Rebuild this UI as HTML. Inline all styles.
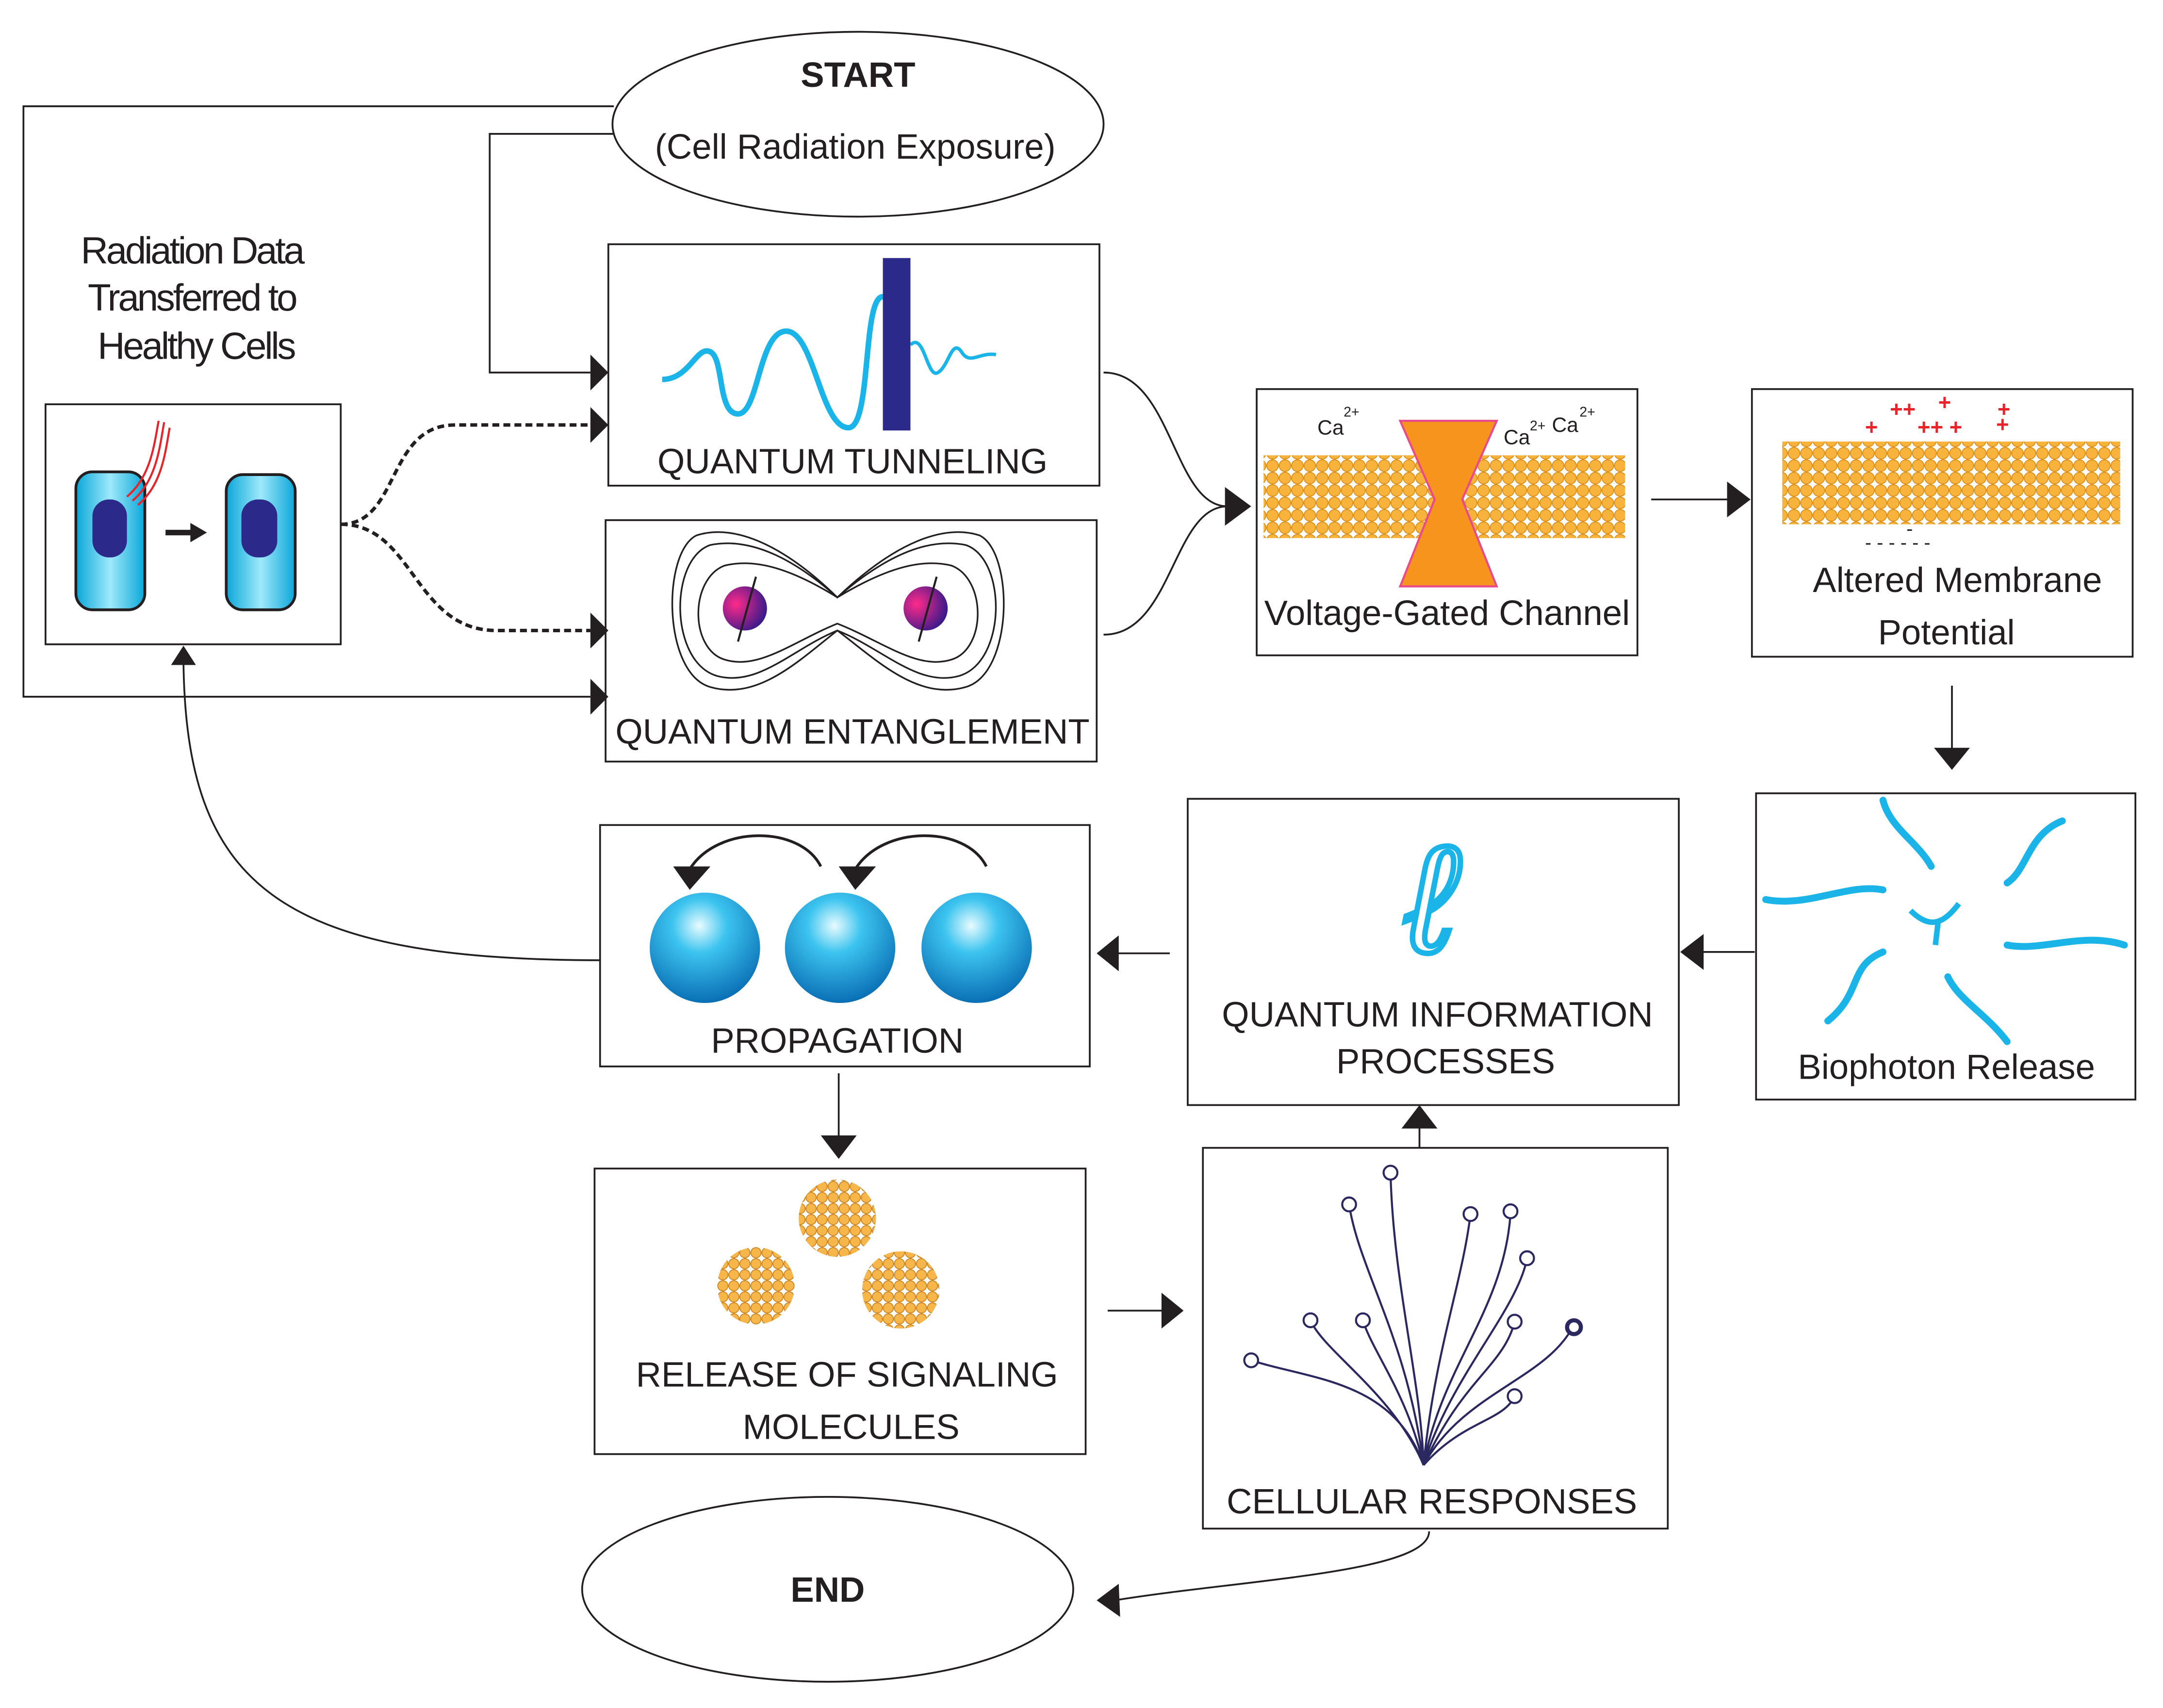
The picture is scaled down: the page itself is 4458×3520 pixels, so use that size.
<!DOCTYPE html>
<html><head><meta charset="utf-8">
<style>
html,body{margin:0;padding:0;background:#fff;}
svg{display:block;}
text{font-family:"Liberation Sans",sans-serif;}
</style></head>
<body>
<svg width="4458" height="3520" viewBox="0 0 1568 1238" xmlns="http://www.w3.org/2000/svg">
<defs>
<radialGradient id="ball" cx="0.45" cy="0.3" r="0.7">
<stop offset="0" stop-color="#e8fbff"/><stop offset="0.35" stop-color="#3cc4ef"/><stop offset="1" stop-color="#0a6fb5"/>
</radialGradient>
<linearGradient id="cellg" x1="0" x2="1"><stop offset="0" stop-color="#0aa6d8"/><stop offset="0.5" stop-color="#9ee9fb"/><stop offset="1" stop-color="#0aa6d8"/></linearGradient>
<radialGradient id="spin" cx="0.3" cy="0.4" r="0.7"><stop offset="0" stop-color="#ff2a8a"/><stop offset="1" stop-color="#3a1a8a"/></radialGradient>
<pattern id="lip" width="9" height="9" patternUnits="userSpaceOnUse"><circle cx="4.5" cy="4.5" r="4.2" fill="#f7b33c" stroke="#d98a10" stroke-width="0.6"/></pattern>
<pattern id="mol" width="8" height="8" patternUnits="userSpaceOnUse"><circle cx="4" cy="4" r="3.7" fill="#f6b64a" stroke="#c9801a" stroke-width="0.6"/></pattern>
</defs>
<g fill="none" stroke="#231f20" stroke-width="1.3">
<ellipse cx="622" cy="90" rx="178" ry="67"/>
<ellipse cx="600" cy="1152" rx="178" ry="67"/>
<rect x="441" y="177" width="356" height="175"/>
<rect x="439" y="377" width="356" height="175"/>
<rect x="33" y="293" width="214" height="174"/>
<rect x="911" y="282" width="276" height="193"/>
<rect x="1270" y="282" width="276" height="194"/>
<rect x="1273" y="575" width="275" height="222"/>
<rect x="861" y="579" width="356" height="222"/>
<rect x="435" y="598" width="355" height="175"/>
<rect x="431" y="847" width="356" height="207"/>
<rect x="872" y="832" width="337" height="276"/>
<polyline points="445,77 17,77 17,505 428,505"/>
<polyline points="445,97 355,97 355,270 428,270"/>
<path d="M247,380 C290,380 280,308 330,308 L428,308" stroke-dasharray="5,3" stroke-width="2.5"/>
<path d="M247,380 C300,380 300,457 360,457 L428,457" stroke-dasharray="5,3" stroke-width="2.5"/>
<path d="M800,270 C850,270 850,367 890,367"/>
<path d="M800,460 C850,460 850,367 890,367"/>
<line x1="1197" y1="362" x2="1255" y2="362"/>
<line x1="1415" y1="497" x2="1415" y2="545"/>
<line x1="1272" y1="690" x2="1232" y2="690"/>
<line x1="848" y1="691" x2="808" y2="691"/>
<path d="M435,696 C200,696 135,640 133,480"/>
<line x1="608" y1="778" x2="608" y2="826"/>
<line x1="803" y1="950" x2="845" y2="950"/>
<line x1="1029" y1="832" x2="1029" y2="815"/>
<path d="M1036,1110 C1036,1140 900,1145 808,1160"/>
</g>
<g fill="#231f20">
<polygon points="428,257 441,270 428,283"/>
<polygon points="428,295 441,308 428,321"/>
<polygon points="428,444 441,457 428,470"/>
<polygon points="428,492 441,505 428,518"/>
<polygon points="888,353 907,367 888,381"/>
<polygon points="1252,349 1269,362 1252,375"/>
<polygon points="1402,542 1415,558 1428,542"/>
<polygon points="1235,677 1218,690 1235,703"/>
<polygon points="811,678 795,691 811,704"/>
<polygon points="124,482 133,468 142,482"/>
<polygon points="595,823 608,840 621,823"/>
<polygon points="842,937 858,950 842,963"/>
<polygon points="1016,818 1029,801 1042,818"/>
<polygon points="811,1148 795,1160 812,1172"/>
</g>
<g fill="#231f20" font-size="25.5" text-anchor="middle">
<text x="622" y="63" font-weight="bold">START</text>
<text x="620" y="115">(Cell Radiation Exposure)</text>
<text x="600" y="1161" font-weight="bold">END</text>
<text x="139" y="191" letter-spacing="-1.5" font-size="27.5">Radiation Data</text>
<text x="139" y="225" letter-spacing="-1.5" font-size="27.5">Transferred to</text>
<text x="142" y="260" letter-spacing="-1.5" font-size="27.5">Healthy Cells</text>
<text x="618" y="343">QUANTUM TUNNELING</text>
<text x="618" y="539">QUANTUM ENTANGLEMENT</text>
<text x="1049" y="453">Voltage-Gated Channel</text>
<text x="1419" y="429">Altered Membrane</text>
<text x="1411" y="467">Potential</text>
<text x="1411" y="782">Biophoton Release</text>
<text x="1042" y="744">QUANTUM INFORMATION</text>
<text x="1048" y="778">PROCESSES</text>
<text x="607" y="763">PROPAGATION</text>
<text x="614" y="1005">RELEASE OF SIGNALING</text>
<text x="617" y="1043">MOLECULES</text>
<text x="1038" y="1097">CELLULAR RESPONSES</text>
</g>
<path d="M480,275 C500,275 505,250 515,255 C525,260 520,300 535,300 C550,300 550,240 570,240 C590,240 595,310 615,310 C632,310 625,215 640,215" fill="none" stroke="#1ab4e8" stroke-width="4"/>
<path d="M660,250 C670,240 672,275 680,270 C688,265 690,245 697,255 C703,265 710,255 722,257" fill="none" stroke="#1ab4e8" stroke-width="2.5"/>
<rect x="640" y="187" width="20" height="125" fill="#2b2a8a"/>
<g fill="none" stroke="#231f20" stroke-width="1.2">
<path d="M607,433 C570,400 540,390 515,395 C485,405 485,480 520,490 C550,498 575,470 607,457 C640,470 665,498 695,490 C730,480 730,405 700,395 C675,390 645,400 607,433Z"/>
<path d="M607,433 C565,392 530,380 505,388 C480,400 480,488 515,498 C550,508 580,478 607,457 C635,478 665,508 700,498 C735,488 735,400 710,388 C685,380 650,392 607,433Z"/>
<path d="M607,433 C570,410 545,405 525,410 C500,420 500,470 525,478 C550,486 575,465 607,452 C640,465 665,486 690,478 C715,470 715,420 690,410 C670,405 645,410 607,433Z"/>
</g>
<circle cx="540" cy="441" r="16" fill="url(#spin)"/>
<circle cx="671" cy="441" r="16" fill="url(#spin)"/>
<line x1="535" y1="465" x2="548" y2="418" stroke="#231f20" stroke-width="1.5"/>
<line x1="666" y1="465" x2="679" y2="418" stroke="#231f20" stroke-width="1.5"/>
<rect x="55" y="342" width="50" height="100" rx="12" fill="url(#cellg)" stroke="#231f20" stroke-width="2"/>
<rect x="67" y="362" width="25" height="42" rx="12" fill="#2b2a8a"/>
<rect x="164" y="344" width="50" height="98" rx="12" fill="url(#cellg)" stroke="#231f20" stroke-width="2"/>
<rect x="175" y="362" width="26" height="42" rx="12" fill="#2b2a8a"/>
<path d="M120,386 L140,386" stroke="#231f20" stroke-width="4"/>
<polygon points="138,379 150,386 138,393" fill="#231f20"/>
<g stroke="#e8242a" stroke-width="1.5" fill="none">
<path d="M92,360 C110,345 112,320 115,305"/><path d="M96,363 C114,348 116,322 119,306"/><path d="M100,366 C118,351 120,326 123,310"/>
</g>
<rect x="916" y="330" width="262" height="60" fill="url(#lip)"/>
<path d="M1015,305 L1085,305 L1060,362 L1085,425 L1015,425 L1040,362Z" fill="#f7941d" stroke="#e84a8a" stroke-width="1.5"/>
<g font-size="15" fill="#231f20"><text x="955" y="315">Ca</text><text x="974" y="302" font-size="10">2+</text>
<text x="1090" y="322">Ca</text><text x="1109" y="312" font-size="10">2+</text><text x="1125" y="313">Ca</text><text x="1145" y="302" font-size="10">2+</text></g>
<rect x="1292" y="320" width="245" height="60" fill="url(#lip)"/>
<g fill="#e8242a" font-size="16" font-weight="bold"><text x="1352" y="315">+</text><text x="1370" y="302">++</text><text x="1405" y="297">+</text><text x="1390" y="315">++ +</text><text x="1448" y="302">+</text><text x="1447" y="313">+</text></g>
<g fill="#231f20" font-size="14"><text x="1352" y="398">- - - - - -</text><text x="1382" y="388">-</text></g>
<g fill="none" stroke="#1ab4e8" stroke-width="5" stroke-linecap="round">
<path d="M1400,628 C1390,610 1370,600 1365,580"/>
<path d="M1455,640 C1470,630 1470,605 1495,595"/>
<path d="M1365,645 C1340,640 1310,658 1280,652"/>
<path d="M1455,685 C1480,690 1510,675 1540,685"/>
<path d="M1365,690 C1340,700 1350,720 1325,740"/>
<path d="M1412,708 C1420,725 1440,735 1455,755"/>
</g>
<path d="M1385,660 C1400,675 1410,668 1420,655 M1405,668 L1403,685" stroke="#1ab4e8" stroke-width="4" fill="none"/>
<text x="1037" y="690" font-size="110" fill="none" stroke="#1ab4e8" stroke-width="4" text-anchor="middle" font-style="italic" font-family="Liberation Serif,serif">ℓ</text>
<circle cx="511" cy="687" r="40" fill="url(#ball)"/>
<circle cx="609" cy="687" r="40" fill="url(#ball)"/>
<circle cx="708" cy="687" r="40" fill="url(#ball)"/>
<path d="M595,628 C580,598 520,598 500,630" fill="none" stroke="#231f20" stroke-width="2"/>
<path d="M715,628 C700,598 640,598 620,630" fill="none" stroke="#231f20" stroke-width="2"/>
<polygon points="488,628 515,628 500,645" fill="#231f20"/>
<polygon points="608,628 635,628 620,645" fill="#231f20"/>
<circle cx="607" cy="883" r="28" fill="url(#mol)"/>
<circle cx="548" cy="932" r="28" fill="url(#mol)"/>
<circle cx="653" cy="935" r="28" fill="url(#mol)"/>
<g fill="none" stroke="#2b2860" stroke-width="1.5">
<path d="M1032,1062 C1030,1000 1010,930 1008,850"/>
<path d="M1032,1062 C1040,980 1060,930 1066,880"/>
<path d="M1032,1062 C1045,990 1090,950 1095,880"/>
<path d="M1032,1062 C1020,970 985,920 978,873"/>
<path d="M1032,1062 C1050,1000 1100,950 1107,912"/>
<path d="M1032,1062 C1010,1010 960,980 950,957"/>
<path d="M1032,1062 C1020,1010 995,980 988,957"/>
<path d="M1032,1062 C1010,1000 950,1000 907,986"/>
<path d="M1032,1062 C1060,1010 1120,1000 1140,962"/>
<path d="M1032,1062 C1060,1030 1090,1030 1098,1012"/>
<path d="M1032,1062 C1060,1000 1090,990 1098,958"/>
</g>
<g fill="#fff" stroke="#2b2860" stroke-width="1.5">
<circle cx="1008" cy="850" r="5"/><circle cx="1066" cy="880" r="5"/><circle cx="1095" cy="878" r="5"/><circle cx="978" cy="873" r="5"/><circle cx="1107" cy="912" r="5"/><circle cx="950" cy="957" r="5"/><circle cx="988" cy="957" r="5"/><circle cx="907" cy="986" r="5"/><circle cx="1141" cy="962" r="5" stroke-width="3"/><circle cx="1098" cy="1012" r="5"/><circle cx="1098" cy="958" r="5"/>
</g>
</svg>
</body></html>
